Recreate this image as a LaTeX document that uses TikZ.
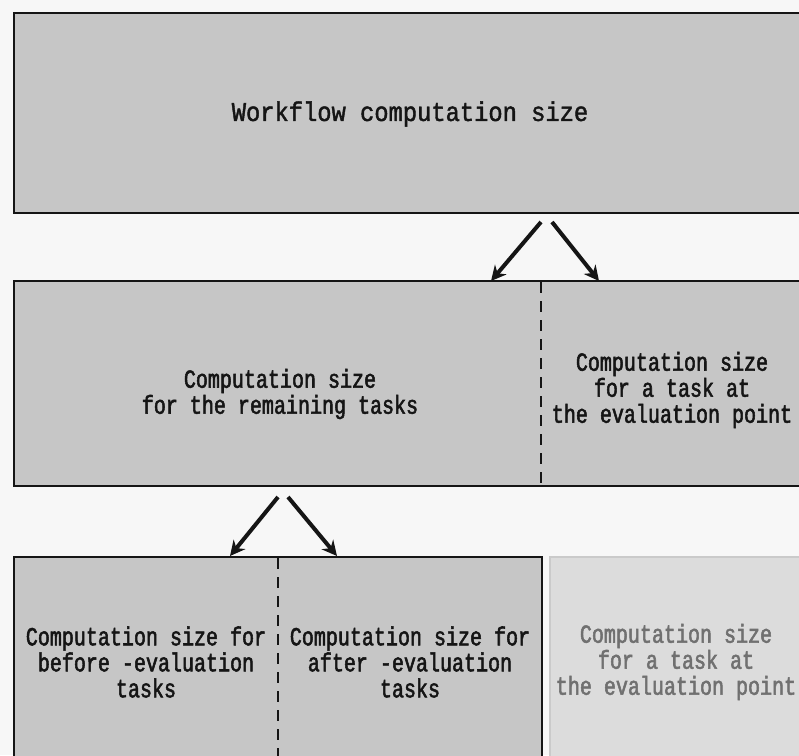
\documentclass[tikz,border=0pt]{standalone}
\usepackage{fontspec}
\setmainfont{Liberation Mono}[FakeStretch=0.77, FakeBold=2]
\newfontfamily\headfont{Liberation Mono}[FakeStretch=0.88, FakeBold=1.6]
\usetikzlibrary{arrows.meta}

\definecolor{paper}{HTML}{F7F7F7}
\definecolor{boxfill}{HTML}{C6C6C6}
\definecolor{palefill}{HTML}{DCDCDC}
\definecolor{paleline}{HTML}{CACACA}
\definecolor{ink}{HTML}{151515}
\definecolor{paleink}{HTML}{707070}

\tikzset{
  block/.style={draw=ink, line width=2pt, fill=boxfill, inner sep=0pt},
  paleblock/.style={draw=paleline, line width=1.5pt, fill=palefill, inner sep=0pt},
  divider/.style={draw=ink, line width=1.3pt, dash pattern=on 11pt off 8pt},
  label/.style={text=ink, align=center, font=\fontsize{26}{26}\selectfont, inner sep=0pt},
  palelabel/.style={label, text=paleink},
  flow/.style={draw=ink, line width=4pt, -{Stealth[length=15pt,width=15pt]}}
}

\begin{document}
\begin{tikzpicture}[x=1pt, y=-1pt]
  \useasboundingbox (0,0) rectangle (799,755);
  \clip (0,0) rectangle (799,755);
  \fill[paper] (0,0) rectangle (799,755);

  % top level
  \node[block, minimum width=798pt, minimum height=200pt] (total) at (413,113) {};
  \node[text=ink, inner sep=0pt, font=\headfont\fontsize{27}{30}\selectfont] (totaltext) at (410,114) {Workflow computation size};

  % middle level
  \node[block, minimum width=798pt, minimum height=205pt] (mid) at (413,383.5) {};
  \coordinate (midsplitT) at (541,282);
  \coordinate (midsplitB) at (541,485);
  \draw[divider] (midsplitT) -- (midsplitB);
  \node[label] (remain) at (280,394) {Computation size\\for the remaining tasks};
  \node[label] (evalA) at (672,390) {Computation size\\for a task at\\the evaluation point};

  % bottom level
  \node[block, minimum width=528pt, minimum height=220pt] (low) at (278,667) {};
  \coordinate (lowsplitT) at (278,558);
  \coordinate (lowsplitB) at (278,760);
  \draw[divider] (lowsplitT) -- (lowsplitB);
  \node[label] (before) at (146,662) {Computation size for\\before -evaluation\\tasks};
  \node[label] (after) at (410,662) {Computation size for\\after -evaluation\\tasks};
  \node[paleblock, minimum width=262pt, minimum height=220pt] (evalbox) at (681,667) {};
  \node[palelabel] (evalB) at (676,662) {Computation size\\for a task at\\the evaluation point};

  % connectors
  \coordinate (t1) at (541,222);
  \coordinate (t2) at (552,222);
  \coordinate (h1) at (491,281);
  \coordinate (h2) at (599,281);
  \draw[flow] (t1) -- (h1);
  \draw[flow] (t2) -- (h2);

  \coordinate (m1) at (278,497);
  \coordinate (m2) at (288,497);
  \coordinate (k1) at (230,556);
  \coordinate (k2) at (337,556);
  \draw[flow] (m1) -- (k1);
  \draw[flow] (m2) -- (k2);
\end{tikzpicture}
\end{document}
